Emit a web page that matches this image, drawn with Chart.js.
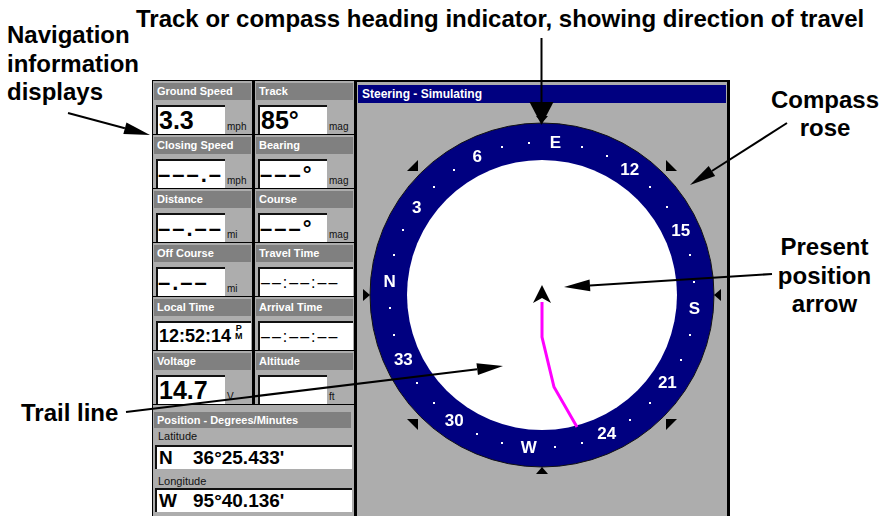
<!DOCTYPE html>
<html>
<head>
<meta charset="utf-8">
<script src="https://cdn.jsdelivr.net/npm/chart.js@4.4.1/dist/chart.umd.min.js"></script>
<style>
html, body { margin: 0; padding: 0; background: #fff; }
body { width: 888px; height: 516px; position: relative; overflow: hidden; font-family: 'Liberation Sans', Arial, sans-serif; }
.note { position: absolute; font-weight: bold; font-size: 24px; line-height: 29px; color: #000; white-space: nowrap; }
.center { text-align: center; }
#frame { position: absolute; left: 152px; top: 80px; width: 578px; height: 436px; background: #000; }
.cell { position: absolute; width: 99px; height: 53px; background: #adadad; }
.lab { position: absolute; left: 1px; top: 2px; width: 94px; height: 17px; padding-left: 3px; background: #808080; color: #fff; font-weight: bold; font-size: 11px; line-height: 17px; white-space: nowrap; }
.box { position: absolute; background: #fff; border-top: 2px solid #111; border-left: 2px solid #111; box-sizing: border-box; white-space: nowrap; color: #000; }
.big { font-weight: bold; font-size: 25px; line-height: 27px; padding-left: 1px; }
.dash { font-size: 22px; letter-spacing: 2px; padding-left: 0; }
.time { font-size: 16px; line-height: 27px; padding-left: 1px; letter-spacing: 2px; }
.ltime { font-weight: bold; font-size: 18px; line-height: 27px; padding-left: 1px; }
.pm { display: inline-block; font-size: 9px; line-height: 8px; vertical-align: 3px; margin-left: 4px; text-align: center; }
.unit { position: absolute; left: 74px; top: 40px; font-size: 10px; line-height: 12px; color: #111; }
#right { position: absolute; left: 357px; top: 82px; width: 370px; height: 434px; background: #adadad; }
#title { position: absolute; left: 358px; top: 85px; width: 364px; height: 18px; padding-left: 4px; background: #000080; color: #fff; font-weight: bold; font-size: 12px; line-height: 18px; }
#rose { position: absolute; left: 357px; top: 103px; }
#pos { position: absolute; left: 153px; top: 405px; width: 201px; height: 111px; background: #adadad; }
.small { position: absolute; font-size: 11px; color: #111; }
.coord { font-weight: bold; font-size: 19px; line-height: 22px; padding-left: 2px; }
#notes { position: absolute; left: 0; top: 0; z-index: 5; }
</style>
</head>
<body>
<div id="frame"></div>
<div id="right"></div>
<div id="title">Steering - Simulating</div>
<canvas id="rose" width="370" height="413"></canvas>
<div id="pos"></div>

<div class="note" style="left:136px; top:4px;">Track or compass heading indicator, showing direction of travel</div>
<div class="note" style="left:7px; top:21px; line-height:28.5px;">Navigation<br>information<br>displays</div>
<div class="note center" style="left:765px; top:86px; width:120px; line-height:28px;">Compass<br>rose</div>
<div class="note center" style="left:762px; top:233px; width:125px; line-height:28.5px;">Present<br>position<br>arrow</div>
<div class="note" style="left:21px; top:398px;">Trail line</div>

<svg id="notes" width="888" height="516"></svg>

<script>
// navigation fields (left panel)
const fieldNames = ['Ground Speed', 'Track', 'Closing Speed', 'Bearing', 'Distance', 'Course',
  'Off Course', 'Travel Time', 'Local Time', 'Arrival Time', 'Voltage', 'Altitude'];
const fieldValues = ['3.3', '85°', '–––.–', '–––°', '––.––', '–––°',
  '–.––', '––:––:––', '12:52:14', '––:––:––', '14.7', ''];
const fieldUnits = ['mph', 'mag', 'mph', 'mag', 'mi', 'mag', 'mi', '', '', '', 'V', 'ft'];

const latDir = 'N', latValue = "36°25.433'";
const lonDir = 'W', lonValue = "95°40.136'";

// compass rose
const heading = 85;
const roseLabels = ['N', '3', '6', 'E', '12', '15', 'S', '21', '24', 'W', '30', '33'];
const roseBearings = [0, 30, 60, 90, 120, 150, 180, 210, 240, 270, 300, 330];
const dotBearings = [10, 20, 40, 50, 70, 80, 100, 110, 130, 140, 160, 170,
  190, 200, 220, 230, 250, 260, 280, 290, 310, 320, 340, 350];

// trail, relative to the present position (screen units, y up)
const trailX = [0, 0, 12, 35];
const trailY = [-7, -42, -92, -132];

const ringOuter = 172, ringInner = 135, labelRadius = 153;

// build the field cells
fieldNames.forEach(function (name, i) {
  let col = i % 2, row = Math.floor(i / 2);
  let cell = document.createElement('div');
  cell.className = 'cell';
  cell.style.left = (153 + col * 102) + 'px';
  cell.style.top = (81 + row * 54) + 'px';

  let lab = document.createElement('div');
  lab.className = 'lab';
  lab.textContent = name;
  cell.appendChild(lab);

  let box = document.createElement('div');
  let val = fieldValues[i];
  let hasUnit = fieldUnits[i] !== '';
  box.className = 'box';
  box.style.left = '3px';
  box.style.top = '24px';
  box.style.height = '29px';
  box.style.width = hasUnit ? '69px' : '95px';
  if (val.indexOf(':') >= 0) {
    if (/^\d/.test(val)) {
      box.classList.add('ltime');
      box.innerHTML = val + '<span class="pm">P<br>M</span>';
    } else {
      box.classList.add('time');
      box.textContent = val;
    }
  } else {
    box.classList.add('big');
    if (val.indexOf('–') >= 0) box.classList.add('dash');
    box.textContent = val;
  }
  cell.appendChild(box);

  if (hasUnit) {
    let u = document.createElement('div');
    u.className = 'unit';
    u.textContent = fieldUnits[i];
    cell.appendChild(u);
  }
  document.body.appendChild(cell);
});

// position section
let posBox = document.getElementById('pos');
posBox.innerHTML =
  '<div class="lab" style="left:1px;top:7px;width:194px;height:16px;line-height:16px;">Position - Degrees/Minutes</div>' +
  '<div class="small" style="left:5px;top:25px;">Latitude</div>' +
  '<div class="box coord" style="left:2px;top:40px;width:197px;height:24px;">' + latDir + '<span style="position:absolute;left:36px;">' + latValue + '</span></div>' +
  '<div class="small" style="left:5px;top:70px;">Longitude</div>' +
  '<div class="box coord" style="left:2px;top:83px;width:197px;height:24px;">' + lonDir + '<span style="position:absolute;left:36px;">' + lonValue + '</span></div>';

// compass rose drawn around the chart's own scales
const rosePlugin = {
  id: 'rose',
  beforeDatasetsDraw(chart) {
    const ctx = chart.ctx, xs = chart.scales.x, ys = chart.scales.y;
    const pt = (b, r) => {
      let a = (b - heading) * Math.PI / 180;
      return { x: xs.getPixelForValue(r * Math.sin(a)), y: ys.getPixelForValue(r * Math.cos(a)) };
    };
    const cx = xs.getPixelForValue(0), cy = ys.getPixelForValue(0);
    const len = v => xs.getPixelForValue(v) - cx;
    ctx.save();
    ctx.beginPath();
    ctx.arc(cx, cy, len(ringOuter), 0, Math.PI * 2);
    ctx.fillStyle = '#000080';
    ctx.fill();
    ctx.lineWidth = 1;
    ctx.strokeStyle = '#111';
    ctx.stroke();
    ctx.beginPath();
    ctx.arc(cx, cy, len(ringInner), 0, Math.PI * 2);
    ctx.fillStyle = '#fff';
    ctx.fill();

    ctx.fillStyle = '#fff';
    dotBearings.forEach(b => {
      let p = pt(b, labelRadius);
      ctx.fillRect(Math.round(p.x) - 1, Math.round(p.y) - 1, 2, 2);
    });
    ctx.font = 'bold 17px "Liberation Sans", Arial, sans-serif';
    ctx.textAlign = 'center';
    ctx.textBaseline = 'middle';
    roseLabels.forEach((t, i) => {
      let p = pt(roseBearings[i], labelRadius);
      ctx.fillText(t, p.x, p.y + 1);
    });
    ctx.restore();
  },
  afterDatasetsDraw(chart) {
    const ctx = chart.ctx, xs = chart.scales.x, ys = chart.scales.y;
    const P = (u, v) => [xs.getPixelForValue(u), ys.getPixelForValue(v)];
    const poly = pts => {
      ctx.beginPath();
      pts.forEach((p, i) => i ? ctx.lineTo(p[0], p[1]) : ctx.moveTo(p[0], p[1]));
      ctx.closePath();
      ctx.fill();
    };
    ctx.save();
    ctx.fillStyle = '#000';
    // cardinal markers
    [0, 90, 180, 270].forEach(deg => {
      let a = deg * Math.PI / 180, s = Math.sin(a), c = Math.cos(a);
      let tip = P(172 * s, 172 * c);
      let b1 = P(179 * s + 6 * c, 179 * c - 6 * s);
      let b2 = P(179 * s - 6 * c, 179 * c + 6 * s);
      poly([tip, b1, b2]);
    });
    // diagonal markers
    [[-1, 1], [1, 1], [-1, -1], [1, -1]].forEach(d => {
      let cxp = d[0] * 124, cyp = d[1] * 124;
      poly([P(cxp, cyp), P(cxp + d[0] * 11, cyp), P(cxp, cyp + d[1] * 11)]);
    });
    // present position arrow
    poly([P(0, 10), P(9, -8), P(0, -3), P(-9, -8)]);
    ctx.restore();
  }
};

new Chart(document.getElementById('rose'), {
  type: 'scatter',
  data: {
    datasets: [{
      label: 'Trail',
      data: trailX.map((v, i) => ({ x: v, y: trailY[i] })),
      showLine: true,
      borderColor: '#ff00ff',
      borderWidth: 3,
      pointRadius: 0,
      tension: 0
    }]
  },
  options: {
    responsive: false,
    animation: false,
    events: [],
    layout: { padding: 0 },
    plugins: { legend: { display: false }, tooltip: { enabled: false } },
    scales: {
      x: { type: 'linear', min: -185, max: 185, display: false },
      y: { type: 'linear', min: -221, max: 192, display: false }
    }
  },
  plugins: [rosePlugin]
});

// callout arrows
const svg = document.getElementById('notes');
function arrow(x1, y1, x2, y2, head, half) {
  let dx = x2 - x1, dy = y2 - y1, d = Math.hypot(dx, dy);
  let ux = dx / d, uy = dy / d;
  let bx = x2 - ux * head, by = y2 - uy * head;
  let ns = 'http://www.w3.org/2000/svg';
  let line = document.createElementNS(ns, 'line');
  line.setAttribute('x1', x1); line.setAttribute('y1', y1);
  line.setAttribute('x2', bx); line.setAttribute('y2', by);
  line.setAttribute('stroke', '#000'); line.setAttribute('stroke-width', 2);
  svg.appendChild(line);
  let tri = document.createElementNS(ns, 'polygon');
  tri.setAttribute('points', [x2, y2, bx - uy * half, by + ux * half, bx + uy * half, by - ux * half].join(' '));
  tri.setAttribute('fill', '#000');
  svg.appendChild(tri);
}
arrow(541.5, 38, 541.5, 125, 23, 12);
arrow(68, 113, 150, 135, 26, 6);
arrow(787, 123, 690, 185, 26, 6);
arrow(772, 274, 564, 287, 26, 6);
arrow(126, 412, 503, 366, 26, 6);
</script>
</body>
</html>
